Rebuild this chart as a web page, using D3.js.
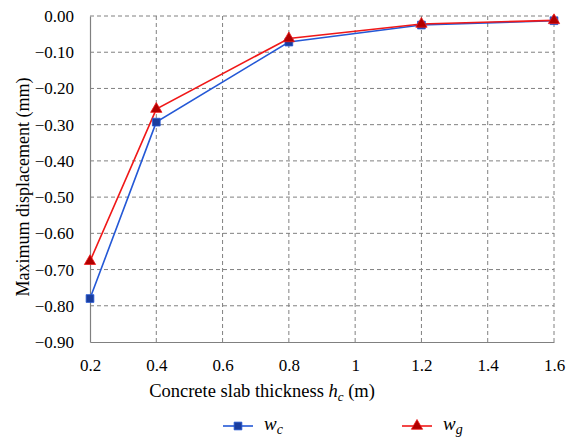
<!DOCTYPE html>
<html><head><meta charset="utf-8">
<script src="https://cdn.jsdelivr.net/npm/d3@7"></script>
</head><body style="margin:0"><svg id="c" width="574" height="440"></svg>
<script>
const thickness = [0.2, 0.4, 0.8, 1.2, 1.6];
const wc = [-0.780, -0.293, -0.072, -0.025, -0.013];
const wg = [-0.677, -0.257, -0.062, -0.022, -0.012];
const xTicks = [0.2, 0.4, 0.6, 0.8, 1, 1.2, 1.4, 1.6];
const yTicks = [0, -0.1, -0.2, -0.3, -0.4, -0.5, -0.6, -0.7, -0.8, -0.9];

const FONT = "Liberation Serif";
const svg = d3.select("#c");
const L = 90, R = 554, T = 16, B = 342;
const x = d3.scaleLinear().domain([0.2, 1.6]).range([L, R]);
const y = d3.scaleLinear().domain([-0.9, 0]).range([B, T]);

// grid
svg.append("g").selectAll("line").data(yTicks.filter(d => d > -0.9)).join("line")
  .attr("x1", L).attr("x2", R).attr("y1", d => y(d)).attr("y2", d => y(d))
  .attr("stroke", "#808080").attr("stroke-width", 1).attr("stroke-dasharray", "4,3");
svg.append("g").selectAll("line").data(xTicks.filter(d => d > 0.2)).join("line")
  .attr("x1", d => x(d)).attr("x2", d => x(d)).attr("y1", T).attr("y2", B)
  .attr("stroke", "#808080").attr("stroke-width", 1).attr("stroke-dasharray", "4,3");

// axes
const xa = svg.append("g").attr("transform", `translate(0,${B})`)
  .call(d3.axisBottom(x).tickValues(xTicks).tickSize(0).tickPadding(17).tickFormat(d => d3.format("")(d)));
const ya = svg.append("g").attr("transform", `translate(${L},0)`)
  .call(d3.axisLeft(y).tickValues(yTicks).tickSize(0).tickPadding(16).tickFormat(d3.format(".2f")));
[xa, ya].forEach(a => {
  a.attr("font-family", FONT).attr("font-size", 17);
  a.select(".domain").attr("stroke", "#808080").attr("stroke-width", 1.2);
  a.selectAll("text").attr("fill", "#000").attr("font-family", FONT).attr("font-size", 17);
});

// lines
const line = d3.line().x((d, i) => x(thickness[i])).y(d => y(d));
svg.append("path").datum(wc).attr("d", line).attr("fill", "none")
  .attr("stroke", "#2458d6").attr("stroke-width", 1.6);
svg.append("path").datum(wg).attr("d", line).attr("fill", "none")
  .attr("stroke", "#f01818").attr("stroke-width", 1.6);

const sq = d3.symbol().type(d3.symbolSquare).size(60);
const tri = d3.symbol().type(d3.symbolTriangle).size(55);
svg.append("g").selectAll("path").data(wc).join("path")
  .attr("d", sq).attr("transform", (d, i) => `translate(${x(thickness[i])},${y(d)})`)
  .attr("fill", "#1a3d9e").attr("stroke", "#2458d6").attr("stroke-width", 0.8);
svg.append("g").selectAll("path").data(wg).join("path")
  .attr("d", tri).attr("transform", (d, i) => `translate(${x(thickness[i])},${y(d)})`)
  .attr("fill", "#b00000").attr("stroke", "#f01818").attr("stroke-width", 0.8);

// axis titles
const xt = svg.append("text").attr("x", 262).attr("y", 397).attr("text-anchor", "middle")
  .attr("font-family", FONT).attr("font-size", 18.5).attr("fill", "#000");
xt.append("tspan").text("Concrete slab thickness ");
xt.append("tspan").attr("font-style", "italic").text("h");
xt.append("tspan").attr("font-style", "italic").attr("font-size", 13).attr("dy", 4).text("c");
xt.append("tspan").attr("dy", -4).text(" (m)");

svg.append("text").attr("transform", "translate(29,187) rotate(-90)")
  .attr("text-anchor", "middle").attr("font-family", FONT).attr("font-size", 18).attr("fill", "#000")
  .text("Maximum displacement (mm)");

// legend
const leg = [{x: 223, c: "#2458d6", f: "#1a3d9e", s: sq, n: "w", sub: "c"},
             {x: 402, c: "#f01818", f: "#b00000", s: tri, n: "w", sub: "g"}];
leg.forEach(l => {
  svg.append("line").attr("x1", l.x).attr("x2", l.x + 30).attr("y1", 426).attr("y2", 426)
    .attr("stroke", l.c).attr("stroke-width", 1.6);
  svg.append("path").attr("d", l.s).attr("transform", `translate(${l.x + 15},426)`)
    .attr("fill", l.f).attr("stroke", l.c).attr("stroke-width", 0.8);
  const t = svg.append("text").attr("x", l.x + 41).attr("y", 430)
    .attr("font-family", FONT).attr("font-size", 19)
    .attr("font-style", "italic").attr("fill", "#000");
  t.append("tspan").text(l.n);
  t.append("tspan").attr("font-size", 14).attr("dy", 4).text(l.sub);
});
</script></body></html>
